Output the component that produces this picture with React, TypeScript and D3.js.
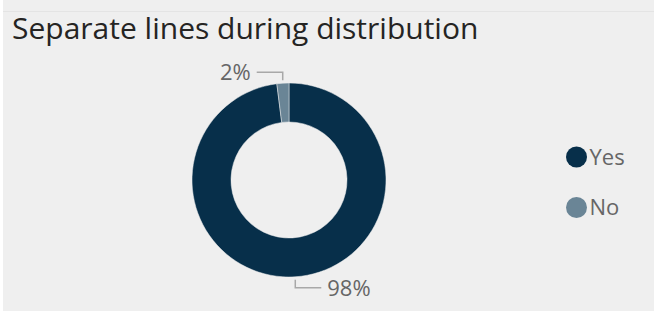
import React from 'react';
import * as d3 from 'd3';

const categories = ['Yes', 'No'];
const values = [98, 2];
const colors = ['#072f4a', '#6a8596'];

const W = 661;
const H = 311;

export default function App() {
  const cx = 289;
  const cy = 180;
  const outerR = 97;
  const innerR = 58;

  const pie = d3.pie<number>().sort(null).value((d) => d);
  const arcs = pie(values);
  const arcGen = d3.arc<d3.PieArcDatum<number>>().innerRadius(innerR).outerRadius(outerR);
  const total = d3.sum(values);

  const font = "'Segoe UI', 'Open Sans', 'DejaVu Sans', sans-serif";

  return (
    <svg width={W} height={H} style={{ position: 'absolute', left: 0, top: 0 }}>
      <rect x={0} y={0} width={W} height={H} fill="#ffffff" />
      <rect x={3} y={0} width={651} height={H} fill="#efefef" />
      <line x1={3} x2={654} y1={11.5} y2={11.5} stroke="#e4e4e4" />
      <text x={12} y={39} fontFamily={font} fontSize={30} fill="#252423">
        Separate lines during distribution
      </text>
      <g transform={`translate(${cx},${cy})`}>
        {arcs.map((a, i) => (
          <path key={categories[i]} d={arcGen(a) || ''} fill={colors[i]} stroke="#efefef" strokeWidth={0.5} />
        ))}
        {arcs.map((a, i) => {
          const mid = (a.startAngle + a.endAngle) / 2;
          const px = Math.sin(mid) * (outerR + 3);
          const py = -Math.cos(mid) * (outerR + 3);
          const label = `${Math.round((values[i] / total) * 100)}%`;
          const above = py < 0;
          const vy = above ? py - 8 : py + 8;
          const hx = above ? px - 26 : px + 26;
          return (
            <g key={'l' + i}>
              <polyline
                points={`${px},${py} ${px},${vy} ${hx},${vy}`}
                fill="none"
                stroke="#a8a8a8"
                strokeWidth={1.5}
              />
              <text
                x={above ? hx - 6 : hx + 6}
                y={vy}
                dy="0.35em"
                textAnchor={above ? 'end' : 'start'}
                fontFamily={font}
                fontSize={22}
                fill="#666666"
              >
                {label}
              </text>
            </g>
          );
        })}
      </g>
      <g fontFamily={font} fontSize={22} fill="#666666">
        {categories.map((c, i) => (
          <g key={c} transform={`translate(576.5,${157 + i * 50.5})`}>
            <circle r={10.5} fill={colors[i]} />
            <text x={13} dy="0.35em">{c}</text>
          </g>
        ))}
      </g>
    </svg>
  );
}
